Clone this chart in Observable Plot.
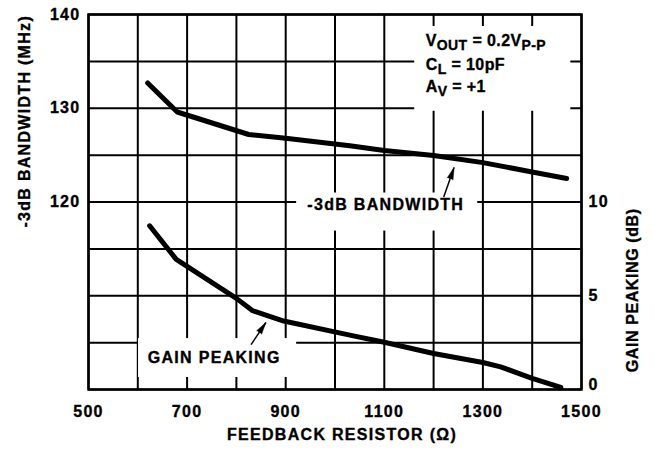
<!DOCTYPE html>
<html><head><meta charset="utf-8">
<script src="https://cdn.jsdelivr.net/npm/d3@7"></script>
<script src="https://cdn.jsdelivr.net/npm/@observablehq/plot@0.6"></script>
<style>
html,body{margin:0;padding:0;background:#fff;}
svg text{font-family:"Liberation Sans",Arial,Helvetica,sans-serif;font-weight:bold;letter-spacing:1.3px;stroke:#000;stroke-width:0.35px;}
</style></head><body><div id="chart"></div>
<script>
// -3dB bandwidth curve (left axis, MHz)
const resistanceBW = [620, 680, 825, 900, 1030, 1100, 1200, 1300, 1400, 1470];
const bandwidthMHz = [132.7, 129.6, 127.2, 126.8, 126.0, 125.5, 124.95, 124.2, 123.2, 122.5];
// Gain peaking curve (right axis, dB)
const resistanceGP = [624, 678, 800, 833, 896, 1030, 1100, 1200, 1300, 1336, 1400, 1458];
const gainPeakingDB = [8.73, 6.94, 4.86, 4.20, 3.65, 2.90, 2.52, 1.92, 1.44, 1.21, 0.59, 0.11];
// ticks
const xTicks = [500, 700, 900, 1100, 1300, 1500];
const bwTicks = [120, 130, 140];
const gpTicks = [0, 5, 10];
const xGrid = [500, 600, 700, 800, 900, 1000, 1100, 1200, 1300, 1400, 1500];
const yGrid = [100, 105, 110, 115, 120, 125, 130, 135, 140];

const bw = resistanceBW.map((r, i) => ({r, v: bandwidthMHz[i]}));
const gp = resistanceGP.map((r, i) => ({r, v: gainPeakingDB[i]}));
// right axis: 0..20 dB spans the same height as 100..140 MHz
const dbToAxis = d => 100 + 2 * d;

// annotation pointers (tail -> tip, in data units)
const pointers = [
  {x1: 1220.5, y1: 120.53, x2: 1241.5, y2: 123.68, angle: 19},
  {x1: 829.8, y1: 104.79, x2: 859.8, y2: 107.15, angle: 34}
];

const FONT = '"Liberation Sans", Arial, Helvetica, sans-serif';

const plot = Plot.plot({
  width: 654, height: 449,
  marginLeft: 88, marginRight: 73, marginTop: 14, marginBottom: 60,
  x: {domain: [500, 1500]},
  y: {domain: [100, 140]},
  style: {fontFamily: FONT, fontWeight: "bold", fontSize: "16px", color: "#000", background: "#fff", overflow: "visible"},
  marks: [
    Plot.ruleX(xGrid, {stroke: "#000", strokeWidth: 2}),
    Plot.ruleY(yGrid, {stroke: "#000", strokeWidth: 2}),
    // white backgrounds behind the annotations (gaps in the grid)
    Plot.rect([
      {x1: 1161.7, x2: 1478.3, y1: 129.68, y2: 138.72},
      {x1: 922.2, x2: 1289.5, y1: 116.9, y2: 120.96},
      {x1: 601.5, x2: 922.2, y1: 101.28, y2: 105.43}
    ], {x1: "x1", x2: "x2", y1: "y1", y2: "y2", fill: "#fff"}),
    Plot.frame({stroke: "#000", strokeWidth: 2.5}),
    Plot.line(bw, {x: "r", y: "v", stroke: "#000", strokeWidth: 5}),
    Plot.line(gp, {x: "r", y: d => dbToAxis(d.v), stroke: "#000", strokeWidth: 5}),
    Plot.link(pointers, {x1: "x1", y1: "y1", x2: "x2", y2: "y2", stroke: "#000", strokeWidth: 1.5}),
    Plot.vector(pointers, {x: "x2", y: "y2", rotate: "angle", length: 12, anchor: "end", shape: "spike", r: 3, fill: "#000", stroke: "#000", strokeWidth: 0.5}),
    Plot.text([
      {t: "V_{OUT} = 0.2V_{P-P}", x: 1184, y: 137.15},
      {t: "C_{L} = 10pF", x: 1184, y: 134.66},
      {t: "A_{V} = +1", x: 1184, y: 132.3}
    ], {x: "x", y: "y", text: "t", textAnchor: "start", lineAnchor: "middle", fontSize: 16, fill: "#000"}),
    Plot.text(["-3dB BANDWIDTH"], {x: 1103, y: 119.7, textAnchor: "middle", lineAnchor: "middle", fontSize: 16, fill: "#000"}),
    Plot.text(["GAIN PEAKING"], {x: 755, y: 103.4, textAnchor: "middle", lineAnchor: "middle", fontSize: 16, fill: "#000"}),
    // axes
    Plot.axisX({ticks: xTicks, tickSize: 0, tickPadding: 16, tickFormat: d => String(d), label: null, fontSize: 16}),
    Plot.axisY({ticks: bwTicks, anchor: "left", tickSize: 0, tickPadding: 8, tickFormat: d => String(d), label: null, fontSize: 16}),
    Plot.axisY({ticks: gpTicks.filter(d => d > 0).map(dbToAxis), anchor: "right", tickSize: 0, tickPadding: 7, tickFormat: d => String((d - 100) / 2), label: null, fontSize: 16}),
    Plot.axisY({ticks: [dbToAxis(0)], anchor: "right", tickSize: 0, tickPadding: 7, dy: -5, tickFormat: d => String((d - 100) / 2), label: null, fontSize: 16}),
    // axis titles
    Plot.text(["FEEDBACK RESISTOR (Ω)"], {frameAnchor: "bottom", dx: 7, dy: 45.5, lineAnchor: "middle", textAnchor: "middle", fontSize: 16, fill: "#000"}),
    Plot.text(["-3dB BANDWIDTH (MHz)"], {frameAnchor: "left", dx: -64, dy: -80.7, rotate: -90, lineAnchor: "middle", textAnchor: "middle", fontSize: 16, fill: "#000"}),
    Plot.text(["GAIN PEAKING (dB)"], {frameAnchor: "right", dx: 51, dy: 88.3, rotate: -90, lineAnchor: "middle", textAnchor: "middle", fontSize: 16, fill: "#000"})
  ]
});
document.getElementById("chart").append(plot);

plot.querySelectorAll("text").forEach(el => {
  const s = el.textContent;
  if (s === "GAIN PEAKING (dB)") el.style.letterSpacing = "0.6px";
  if (!s.includes("_{")) return;
  // turn "X_{sub}" markup into real subscript tspans
  el.style.letterSpacing = "0.4px";
  el.textContent = "";
  const re = /_\{([^}]*)\}/g;
  let last = 0, m, shifted = false;
  const add = (txt, sub) => {
    const ts = document.createElementNS("http://www.w3.org/2000/svg", "tspan");
    ts.textContent = txt;
    if (sub) { ts.setAttribute("dy", "4"); ts.setAttribute("font-size", "14"); shifted = true; }
    else if (shifted) { ts.setAttribute("dy", "-4"); shifted = false; }
    el.appendChild(ts);
  };
  while ((m = re.exec(s))) {
    if (m.index > last) add(s.slice(last, m.index), false);
    add(m[1], true);
    last = re.lastIndex;
  }
  if (last < s.length) add(s.slice(last), false);
});
</script></body></html>
